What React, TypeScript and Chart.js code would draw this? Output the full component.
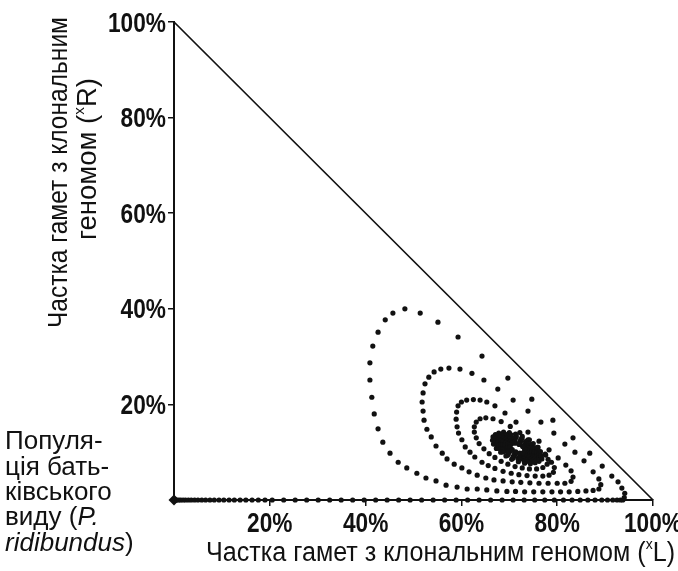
import { useEffect, useRef } from 'react';
import { Chart, registerables } from 'chart.js';

Chart.register(...registerables);

const W = 678;
const H = 571;

// Tick values (%)
const tickValues = [20, 40, 60, 80, 100];

// Boundary line of the simplex
const boundaryX = [0, 100];
const boundaryY = [100, 0];

// Trajectory along the x-axis (y = 0), from the parental-species population
const axisRunX = [
  0.3, 0.6, 1.0, 1.4, 1.9, 2.4, 3.0, 3.6, 4.3, 5.0, 5.8, 6.6, 7.5, 8.4, 9.4, 10.4,
  11.5, 12.6, 13.8, 15.0, 16.3, 17.6, 19.0, 20.5, 22.9, 25.3, 27.7, 30.1, 32.5,
  34.9, 37.3, 39.7, 42.1, 44.5, 46.9, 49.3, 51.7, 54.1, 56.5, 58.9, 61.3, 63.7,
  66.1, 68.5, 70.8, 73.1, 75.3, 77.4, 79.4, 81.3, 83.1, 84.8, 86.4, 87.9, 89.3,
  90.5, 91.6, 92.5, 93.2, 93.7,
];

// Origin point (population of P. ridibundus)
const originPoint: [number, number] = [0, 0];

// Spiral segments: [x %, y %]
const rise0: [number, number][] = [
  [94.0, 0.5], [94.1, 1.4], [93.5, 2.5], [92.7, 3.8], [91.4, 5.0], [89.4, 7.1],
  [86.8, 9.8], [83.3, 13.0], [79.1, 16.7], [74.7, 21.1], [69.7, 25.5], [64.3, 30.1],
  [59.3, 34.1], [55.1, 37.2], [51.4, 39.1], [48.2, 40.0],
];

const loop1: [number, number][] = [
  [45.7, 39.1], [44.1, 37.7], [42.6, 35.1], [41.5, 32.2], [40.9, 28.7], [40.9, 25.1],
  [41.3, 21.5], [41.8, 18.0], [42.6, 14.9], [43.6, 12.1], [45.1, 9.8], [46.8, 7.9],
  [48.6, 6.7], [50.7, 5.6], [52.6, 4.6], [54.7, 4.0], [56.8, 3.1], [59.1, 2.7],
  [61.2, 2.3], [63.3, 2.3], [65.3, 2.1], [67.4, 1.9], [69.5, 1.8], [71.3, 1.8],
  [73.2, 1.7], [75.1, 1.7], [77.0, 1.7], [78.9, 1.7], [80.7, 1.7], [82.5, 1.7],
  [84.3, 1.8], [86.0, 1.9], [87.5, 2.0], [88.7, 2.3], [89.1, 3.2], [88.7, 4.4],
];

const rise1: [number, number][] = [
  [87.5, 5.9], [85.6, 8.2], [83.7, 10.0], [81.6, 11.7], [79.3, 14.0], [76.6, 16.3],
  [73.9, 18.6], [70.8, 20.9], [67.6, 23.2], [64.7, 25.1], [62.2, 26.5], [59.7, 27.4],
  [57.4, 27.6],
];

const loop2: [number, number][] = [
  [55.7, 27.4], [54.3, 26.8], [53.2, 25.7], [52.4, 24.3], [52.0, 22.4], [51.8, 20.5],
  [52.0, 18.6], [52.2, 16.7], [52.8, 14.8], [53.7, 13.2], [54.7, 11.3], [56.0, 9.8],
  [57.0, 8.6], [58.5, 7.5], [60.1, 6.7], [61.6, 5.9], [63.3, 5.2], [65.1, 4.6],
  [66.8, 4.2], [68.7, 4.0], [70.6, 3.8], [72.4, 3.7], [74.3, 3.6], [76.2, 3.5],
  [78.1, 3.5], [80.0, 3.5], [81.6, 3.5], [82.9, 3.9], [83.3, 4.8], [82.9, 6.1],
];

const rise2: [number, number][] = [
  [81.8, 7.3], [80.2, 8.8], [78.3, 10.5], [76.2, 12.3], [73.9, 14.2], [71.4, 16.3],
  [69.1, 18.2], [67.0, 19.7], [65.3, 20.5], [63.9, 20.9], [62.5, 21.0], [61.1, 20.9],
  [60.0, 20.5],
];

const loop3: [number, number][] = [
  [59.3, 19.7], [59.0, 18.4], [58.9, 16.9], [59.1, 15.3], [59.4, 14.0], [60.1, 12.6],
  [60.8, 11.1], [61.8, 10.0], [62.8, 9.0], [64.3, 7.9], [65.6, 7.2], [67.0, 6.6],
  [68.7, 6.0], [70.4, 5.6], [72.0, 5.3], [73.7, 5.1], [75.4, 5.0], [77.0, 5.0],
  [78.3, 5.2], [79.2, 5.8], [79.4, 6.8],
];

const rise3: [number, number][] = [
  [78.8, 7.9], [77.6, 9.4], [76.0, 11.0], [74.2, 12.6], [72.2, 14.1], [70.2, 15.4],
  [68.3, 16.4], [66.6, 17.0], [65.1, 17.2], [63.9, 17.0],
];

const loop4: [number, number][] = [
  [63.1, 16.3], [62.7, 15.3], [62.7, 14.2], [63.1, 13.0], [63.7, 11.8], [64.7, 10.7],
  [65.8, 9.7], [67.0, 8.9], [68.3, 8.1], [69.7, 7.5], [71.2, 7.0], [72.7, 6.7],
  [74.2, 6.5], [75.7, 6.5], [77.0, 6.8], [77.9, 7.5], [78.1, 8.5], [77.5, 9.6],
];

// Dense inner rings converging on the equilibrium
const loop5: [number, number][] = [
  [76.8, 8.6], [76.7, 9.3], [76.5, 10.1], [75.9, 11.0], [75.0, 11.8], [73.9, 12.6],
  [72.7, 13.3], [71.3, 13.8], [70.0, 14.1], [68.8, 14.2], [67.8, 14.0], [67.1, 13.7],
  [66.6, 13.2], [66.5, 12.5], [66.7, 11.7], [67.3, 10.8], [68.2, 10.0], [69.3, 9.2],
  [70.5, 8.5], [71.9, 8.0], [73.2, 7.7], [74.4, 7.6], [75.4, 7.8], [76.2, 8.1],
];

const loop6: [number, number][] = [
  [76.16, 8.84], [76.25, 9.45], [76.03, 10.16], [75.52, 10.91], [74.75, 11.66],
  [73.77, 12.35], [72.64, 12.94], [71.46, 13.39], [70.29, 13.67], [69.21, 13.75],
  [68.31, 13.64], [67.64, 13.33], [67.24, 12.86], [67.15, 12.25], [67.37, 11.54],
  [67.88, 10.79], [68.65, 10.04], [69.63, 9.35], [70.76, 8.76], [71.94, 8.31],
  [73.11, 8.03], [74.19, 7.95], [75.09, 8.06], [75.76, 8.37],
];

const loop7: [number, number][] = [
  [75.5, 9.1], [75.6, 9.7], [75.4, 10.3], [74.9, 10.9], [74.3, 11.6], [73.4, 12.2],
  [72.4, 12.7], [71.4, 13.1], [70.4, 13.3], [69.4, 13.4], [68.6, 13.3], [68.0, 13.1],
  [67.7, 12.6], [67.6, 12.1], [67.8, 11.5], [68.3, 10.9], [68.9, 10.2], [69.8, 9.6],
  [70.8, 9.1], [71.8, 8.7], [72.9, 8.5], [73.8, 8.4], [74.6, 8.5], [75.2, 8.7],
];

const loop8: [number, number][] = [
  [75.16, 9.29], [75.17, 10.02], [74.65, 10.88], [73.69, 11.73], [72.42, 12.44],
  [71.04, 12.92], [69.76, 13.08], [68.78, 12.9], [68.24, 12.41], [68.23, 11.68],
  [68.75, 10.83], [69.71, 9.98], [70.98, 9.26], [72.36, 8.78], [73.64, 8.62],
  [74.62, 8.8],
];

const loop9: [number, number][] = [
  [74.7, 9.5], [74.71, 10.12], [74.26, 10.86], [73.42, 11.59], [72.32, 12.22],
  [71.12, 12.63], [70.01, 12.77], [69.16, 12.62], [68.7, 12.2], [68.69, 11.58],
  [69.14, 10.84], [69.98, 10.11], [71.09, 9.49], [72.28, 9.07], [73.39, 8.93],
  [74.24, 9.08],
];

const loop10: [number, number][] = [
  [74.2, 9.72], [74.21, 10.24], [73.83, 10.86], [73.13, 11.47], [72.21, 11.99],
  [71.22, 12.33], [70.29, 12.45], [69.58, 12.33], [69.2, 11.98], [69.19, 11.46],
  [69.57, 10.84], [70.27, 10.23], [71.19, 9.71], [72.19, 9.37], [73.11, 9.25],
  [73.82, 9.37],
];

const loop11: [number, number][] = [
  [73.7, 9.95], [73.65, 10.55], [73.07, 11.23], [72.13, 11.81], [71.07, 12.13],
  [70.18, 12.11], [69.7, 11.75], [69.75, 11.15], [70.33, 10.47], [71.27, 9.89],
  [72.33, 9.57], [73.22, 9.59],
];

const loop12: [number, number][] = [
  [73.25, 10.15], [73.22, 10.63], [72.78, 11.17], [72.05, 11.62], [71.23, 11.87],
  [70.54, 11.84], [70.15, 11.55], [70.19, 11.07], [70.62, 10.53], [71.35, 10.08],
  [72.17, 9.83], [72.87, 9.86],
];

// Texts
const xTitleMain = 'Частка гамет з клональним геномом (';
const xTitleSup = 'x';
const xTitleEnd = 'L)';
const yTitleLine1 = 'Частка гамет з клональним';
const yTitleLine2Main = 'геномом (';
const yTitleSup = 'x';
const yTitleEnd = 'R)';
const noteLines = ['Популя-', 'ція бать-', 'ківського'];
const noteLine4 = 'виду (';
const noteLine4It = 'P.';
const noteLine5It = 'ridibundus';
const noteLine5 = ')';

type Run = { t: string; italic?: boolean; sup?: boolean; bold?: boolean };

const FAMILY = '"Liberation Sans", Arial, sans-serif';
const INK = '#111';
const TICK_SIZE = 27;
const TICK_SX = 0.84;

function fontFor(r: Run, size: number, family: string) {
  const s = r.sup ? Math.round(size * 0.55) : size;
  return `${r.italic ? 'italic ' : ''}${r.bold ? 'bold ' : ''}${s}px ${family}`;
}

function runsWidth(ctx: CanvasRenderingContext2D, runs: Run[], size: number, family: string) {
  let w = 0;
  for (const r of runs) {
    ctx.font = fontFor(r, size, family);
    w += ctx.measureText(r.t).width;
  }
  return w;
}

function drawRuns(
  ctx: CanvasRenderingContext2D,
  runs: Run[],
  size: number,
  family: string,
  targetW?: number
) {
  const w = runsWidth(ctx, runs, size, family);
  const sx = targetW ? targetW / w : 1;
  ctx.save();
  ctx.scale(sx, 1);
  let cx = 0;
  for (const r of runs) {
    ctx.font = fontFor(r, size, family);
    ctx.fillText(r.t, cx, r.sup ? -size * 0.45 : 0);
    cx += ctx.measureText(r.t).width;
  }
  ctx.restore();
}

const textPlugin = {
  id: 'textPlugin',
  afterDraw(chart: any) {
    const ctx: CanvasRenderingContext2D = chart.ctx;
    const xs = chart.scales.x;
    const ys = chart.scales.y;
    ctx.save();
    ctx.fillStyle = INK;
    ctx.textBaseline = 'alphabetic';
    ctx.textAlign = 'left';

    // Tick labels (positions from the chart's scales)
    ctx.font = `bold ${TICK_SIZE}px ${FAMILY}`;
    tickValues.forEach((v) => {
      const label = `${v}%`;
      const w = ctx.measureText(label).width * TICK_SX;
      ctx.save();
      ctx.translate(xs.getPixelForValue(v) - w / 2, ys.bottom + 32);
      ctx.scale(TICK_SX, 1);
      ctx.fillText(label, 0, 0);
      ctx.restore();
      ctx.save();
      ctx.translate(xs.left - 8 - w, ys.getPixelForValue(v) + 9.5);
      ctx.scale(TICK_SX, 1);
      ctx.fillText(label, 0, 0);
      ctx.restore();
    });

    // x-axis title
    ctx.save();
    ctx.translate(206, 561);
    drawRuns(
      ctx,
      [{ t: xTitleMain }, { t: xTitleSup, sup: true }, { t: xTitleEnd }],
      27,
      FAMILY,
      469
    );
    ctx.restore();

    // y-axis title, line 1
    ctx.save();
    ctx.translate(67, 328);
    ctx.rotate(-Math.PI / 2);
    drawRuns(ctx, [{ t: yTitleLine1 }], 27, FAMILY, 311);
    ctx.restore();

    // y-axis title, line 2
    ctx.save();
    ctx.translate(96, 240);
    ctx.rotate(-Math.PI / 2);
    drawRuns(
      ctx,
      [{ t: yTitleLine2Main }, { t: yTitleSup, sup: true }, { t: yTitleEnd }],
      27,
      FAMILY,
      162
    );
    ctx.restore();

    // Note near the origin
    const baselines = [449, 475, 500, 525, 551];
    noteLines.forEach((line, i) => {
      ctx.save();
      ctx.translate(5, baselines[i]);
      drawRuns(ctx, [{ t: line }], 26, FAMILY);
      ctx.restore();
    });
    ctx.save();
    ctx.translate(5, baselines[3]);
    drawRuns(ctx, [{ t: noteLine4 }, { t: noteLine4It, italic: true }], 26, FAMILY);
    ctx.restore();
    ctx.save();
    ctx.translate(5, baselines[4]);
    drawRuns(ctx, [{ t: noteLine5It, italic: true }, { t: noteLine5 }], 26, FAMILY);
    ctx.restore();

    ctx.restore();
  },
};

export default function App() {
  const canvasRef = useRef<HTMLCanvasElement | null>(null);

  useEffect(() => {
    const canvas = canvasRef.current;
    if (!canvas) return;

    const toPts = (arr: [number, number][]) => arr.map(([x, y]) => ({ x, y }));
    const trajectory = [
      ...axisRunX.map((x) => ({ x, y: 0 })),
      ...toPts(rise0),
      ...toPts(loop1),
      ...toPts(rise1),
      ...toPts(loop2),
      ...toPts(rise2),
      ...toPts(loop3),
      ...toPts(rise3),
      ...toPts(loop4),
      ...toPts(loop5),
      ...toPts(loop6),
      ...toPts(loop7),
      ...toPts(loop8),
      ...toPts(loop9),
      ...toPts(loop10),
      ...toPts(loop11),
      ...toPts(loop12),
    ];

    const chart = new Chart(canvas, {
      type: 'scatter',
      data: {
        datasets: [
          {
            data: boundaryX.map((x, i) => ({ x, y: boundaryY[i] })),
            showLine: true,
            borderColor: INK,
            borderWidth: 1.7,
            pointRadius: 0,
            clip: false as any,
          },
          {
            data: trajectory,
            showLine: false,
            pointRadius: 2.6,
            pointBackgroundColor: INK,
            pointBorderWidth: 0,
            clip: false as any,
          },
          {
            data: [{ x: originPoint[0], y: originPoint[1] }],
            showLine: false,
            pointStyle: 'rectRot',
            pointRadius: 5.5,
            pointBackgroundColor: INK,
            pointBorderWidth: 0,
            clip: false as any,
          },
        ],
      },
      options: {
        animation: false,
        responsive: false,
        events: [],
        layout: { padding: { top: 22, right: 25, left: 0, bottom: 0 } },
        plugins: {
          legend: { display: false },
          tooltip: { enabled: false },
        },
        scales: {
          x: {
            type: 'linear',
            position: 'bottom',
            min: 0,
            max: 100,
            afterBuildTicks: (s: any) => {
              s.ticks = tickValues.map((v) => ({ value: v }));
            },
            afterFit: (s: any) => {
              s.height = 71;
              s.paddingLeft = 0;
              s.paddingRight = 25;
            },
            ticks: { display: false },
            grid: {
              drawOnChartArea: false,
              drawTicks: true,
              tickLength: 6,
              color: INK,
              lineWidth: 1.5,
            },
            border: { display: true, color: INK, width: 2 },
          },
          y: {
            type: 'linear',
            min: 0,
            max: 100,
            afterBuildTicks: (s: any) => {
              s.ticks = tickValues.map((v) => ({ value: v }));
            },
            afterFit: (s: any) => {
              s.width = 174;
              s.paddingTop = 0;
              s.paddingBottom = 0;
            },
            ticks: { display: false },
            grid: {
              drawOnChartArea: false,
              drawTicks: true,
              tickLength: 6,
              color: INK,
              lineWidth: 1.5,
            },
            border: { display: true, color: INK, width: 2 },
          },
        },
      },
      plugins: [textPlugin],
    });

    return () => chart.destroy();
  }, []);

  return (
    <div
      style={{
        position: 'absolute',
        left: 0,
        top: 0,
        width: W,
        height: H,
        background: '#fff',
      }}
    >
      <canvas ref={canvasRef} width={W} height={H} style={{ display: 'block' }} />
    </div>
  );
}
